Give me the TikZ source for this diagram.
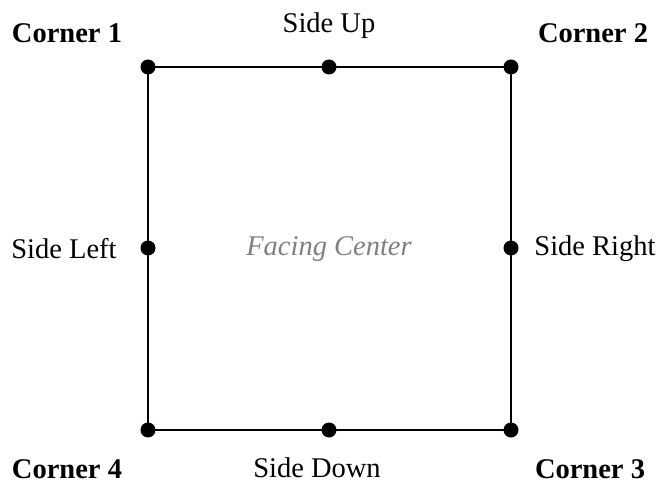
\documentclass[tikz,border=0pt]{standalone}
\usepackage{fontspec}
\setmainfont{Liberation Serif}
\begin{document}
\begin{tikzpicture}[x=1pt,y=-1pt,
  lbl/.style={font=\fontsize{28.5}{30}\selectfont, anchor=base, inner sep=0pt},
  blbl/.style={lbl, font=\fontsize{28.5}{30}\selectfont\bfseries},
  pt/.style={circle, fill=black, minimum size=15pt, inner sep=0pt},
  edge/.style={line width=2pt}]
\useasboundingbox (0,0) rectangle (667,484);
\node[pt] (c1) at (148,67) {};
\node[pt] (c2) at (511,67) {};
\node[pt] (c3) at (511,430) {};
\node[pt] (c4) at (148,430) {};
\node[pt] (su) at (329,67) {};
\node[pt] (sr) at (511,248) {};
\node[pt] (sd) at (329,430) {};
\node[pt] (sl) at (148,248) {};
\draw[edge] (c1.center) -- (su.center) -- (c2.center) -- (sr.center) -- (c3.center) -- (sd.center) -- (c4.center) -- (sl.center) -- cycle;
\node[blbl] (t1) at (67,43) {Corner 1};
\node[blbl] (t2) at (593,43) {Corner 2};
\node[blbl] (t3) at (590,478) {Corner 3};
\node[blbl] (t4) at (67,478) {Corner 4};
\node[lbl] (tu) at (329,33) {Side Up};
\node[lbl] (td) at (317,477) {Side Down};
\node[lbl] (tl) at (64,258) {Side Left};
\node[lbl] (tr) at (595,255) {Side Right};
\node[lbl, text={rgb,255:red,128;green,128;blue,128}, font=\fontsize{28.5}{30}\selectfont\itshape] (fc) at (329,255) {Facing Center};
\end{tikzpicture}
\end{document}
